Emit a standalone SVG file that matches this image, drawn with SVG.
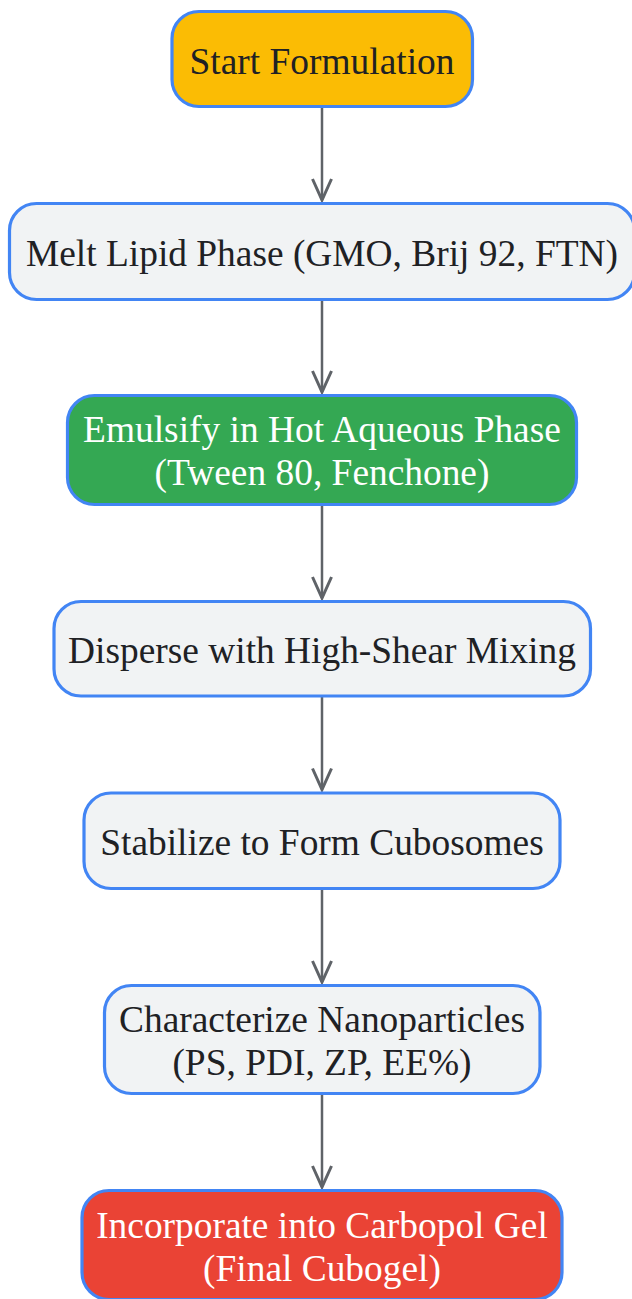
<svg xmlns="http://www.w3.org/2000/svg" width="632" height="1299" viewBox="0 0 632 1299">
  <style>
    .node rect { stroke: #4285f4; stroke-width: 3.2; }
    .plain rect { fill: #f1f3f4; }
    .start rect { fill: #fbbc04; }
    .green rect { fill: #34a853; }
    .red rect { fill: #ea4335; }
    text { font-family: "Liberation Serif", "Times New Roman", serif; font-size: 37.4px; text-anchor: middle; fill: #202124; }
    .green text, .red text { fill: #ffffff; }
    .edge { stroke: #5f6368; stroke-width: 2.5; fill: none; }
    .head { stroke: #5f6368; stroke-width: 3; fill: none; stroke-linejoin: miter; stroke-linecap: butt; }
  </style>
  <rect width="632" height="1299" fill="#ffffff"/>
  <g id="connectors">
    <line class="edge" x1="322" y1="106.5" x2="322" y2="200"/>
    <path class="head" d="M312.5,179 L322,200 L331.5,179"/>
    <line class="edge" x1="322" y1="299.5" x2="322" y2="392"/>
    <path class="head" d="M312.5,371 L322,392 L331.5,371"/>
    <line class="edge" x1="322" y1="504.5" x2="322" y2="598"/>
    <path class="head" d="M312.5,577 L322,598 L331.5,577"/>
    <line class="edge" x1="322" y1="696" x2="322" y2="789.5"/>
    <path class="head" d="M312.5,768.5 L322,789.5 L331.5,768.5"/>
    <line class="edge" x1="322" y1="888.5" x2="322" y2="982"/>
    <path class="head" d="M312.5,961 L322,982 L331.5,961"/>
    <line class="edge" x1="322" y1="1093.5" x2="322" y2="1187"/>
    <path class="head" d="M312.5,1166 L322,1187 L331.5,1166"/>
  </g>
  <g id="n1" class="node start">
    <rect x="172" y="11.5" width="300.5" height="95" rx="27" ry="27"/>
    <text x="322" y="73.5">Start Formulation</text>
  </g>
  <g id="n2" class="node plain">
    <rect x="9.5" y="203.5" width="625" height="96" rx="27" ry="27"/>
    <text x="322" y="265.5">Melt Lipid Phase (GMO, Brij 92, FTN)</text>
  </g>
  <g id="n3" class="node green">
    <rect x="67.5" y="395.5" width="509" height="109" rx="27" ry="27"/>
    <text x="322" y="442">Emulsify in Hot Aqueous Phase</text>
    <text x="322" y="485">(Tween 80, Fenchone)</text>
  </g>
  <g id="n4" class="node plain">
    <rect x="54" y="601.5" width="536.5" height="94.5" rx="27" ry="27"/>
    <text x="322" y="663">Disperse with High-Shear Mixing</text>
  </g>
  <g id="n5" class="node plain">
    <rect x="84" y="793" width="476" height="95.5" rx="27" ry="27"/>
    <text x="322" y="855">Stabilize to Form Cubosomes</text>
  </g>
  <g id="n6" class="node plain">
    <rect x="104.5" y="985.5" width="435.5" height="108" rx="27" ry="27"/>
    <text x="322" y="1032">Characterize Nanoparticles</text>
    <text x="322" y="1075">(PS, PDI, ZP, EE%)</text>
  </g>
  <g id="n7" class="node red">
    <rect x="82" y="1190.5" width="480" height="109" rx="27" ry="27"/>
    <text x="322" y="1237.5">Incorporate into Carbopol Gel</text>
    <text x="322" y="1280.5">(Final Cubogel)</text>
  </g>
</svg>
